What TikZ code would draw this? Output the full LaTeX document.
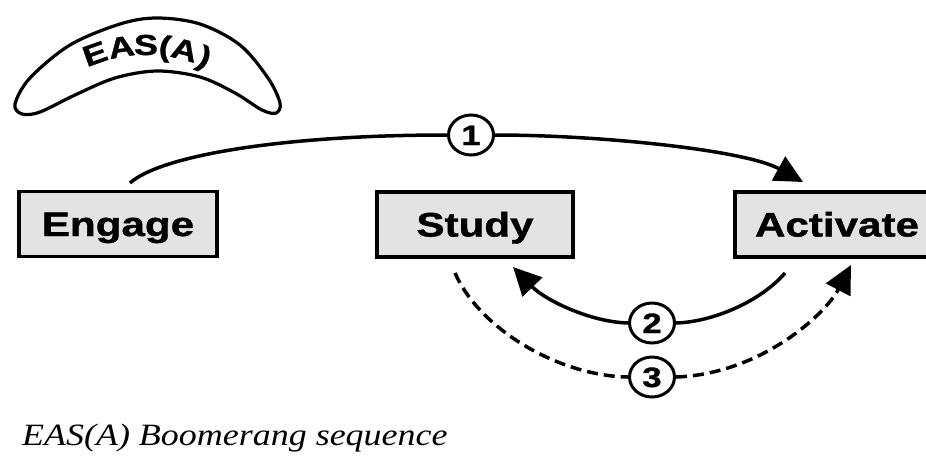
\documentclass[tikz,border=0pt]{standalone}
\usepackage{fontspec}
\usetikzlibrary{arrows.meta,shapes.geometric}
\newfontfamily\lblfont{Liberation Sans}[FakeStretch=1.24,FakeBold=1.2]
\newfontfamily\capfont{Liberation Serif}[FakeStretch=1.16]
\begin{document}
\begin{tikzpicture}[x=1pt,y=-1pt,
  box/.style={draw=black, line width=3.8pt, fill=black!11, minimum width=198pt, minimum height=65pt, inner sep=0pt,
    font=\lblfont\bfseries\fontsize{34}{34}\selectfont, text height=24pt, text depth=0pt},
  num/.style={ellipse, draw=black, line width=3pt, fill=white, minimum width=45pt, minimum height=40pt, inner sep=0pt,
    font=\lblfont\bfseries\fontsize{28}{28}\selectfont, text height=20pt, text depth=0pt},
  letter/.style={anchor=base, inner sep=0pt, font=\lblfont\bfseries\fontsize{29}{29}\selectfont},
  conn/.style={line width=3.5pt, draw=black},
  tipped/.style={-{Triangle[length=28pt,width=27pt]}},
  dashline/.style={dash pattern=on 11pt off 6pt}]
\useasboundingbox (0,0) rectangle (926,461);
\clip (0,0) rectangle (926,461);
\fill[white] (0,0) rectangle (926,461);
% boomerang
\draw[line width=3.2pt] plot[smooth cycle, tension=0.55] coordinates {
  (22,114) (15,104) (30,78) (70,45) (120,24) (157,18) (200,24) (240,45) (268,78) (280,103) (276,113)
  (262,110) (235,93) (200,77) (157,71) (115,78) (75,95) (40,112)};
\node[letter, rotate=19.5] (b1) at ({146+143*sin(-19.5)},{198-143*cos(-19.5)}) {E};
\node[letter, rotate=9.3]  (b2) at ({146+143*sin(-9.3)},{198-143*cos(-9.3)}) {A};
\node[letter, rotate=0]    (b3) at (146,55) {S};
\node[letter, rotate=-7.2] (b4) at ({146+143*sin(7.2)},{198-143*cos(7.2)}) {(};
\node[letter, rotate=-14.6] (b5) at ({146+143*sin(14.6)},{198-143*cos(14.6)}) {A};
\node[letter, rotate=-22.6]  (b6) at ({146+143*sin(22.6)},{198-143*cos(22.6)}) {)};
% boxes
\node[box] (engage) at (118,224) {Engage};
\node[box, minimum width=196pt] (study) at (475,224.5) {Study};
\node[box, minimum width=204pt] (activate) at (837,224.5) {Activate};
% number circles
\node[num] (n1) at (471,135) {1};
\node[num] (n2) at (652,323) {2};
\node[num] (n3) at (652,377) {3};
% free ends
\coordinate (s1) at (130,183);
\coordinate (e1) at (803,182);
\coordinate (s2) at (785,273);
\coordinate (e2) at (513,267);
\coordinate (s3) at (455,273);
\coordinate (e3) at (851,265);
% connectors
\draw[conn] (s1) .. controls (160,156) and (280,135) .. (n1.west);
\draw[conn,tipped] (n1.east) .. controls (600,135) and (745,150) .. (e1);
\draw[conn] (s2) .. controls (760,302) and (712,322) .. (n2.east);
\draw[conn,tipped] (n2.west) .. controls (590,322) and (545,300) .. (e2);
\draw[conn,dashline] (s3) .. controls (480,330) and (560,376) .. (n3.west);
\draw[conn,dashline,tipped] (n3.east) .. controls (760,374) and (825,315) .. (e3);
% caption
\node[anchor=base west, inner sep=0pt, font=\capfont\itshape\fontsize{31}{31}\selectfont] (cap) at (22,445) {EAS(A) Boomerang sequence};
\end{tikzpicture}
\end{document}
